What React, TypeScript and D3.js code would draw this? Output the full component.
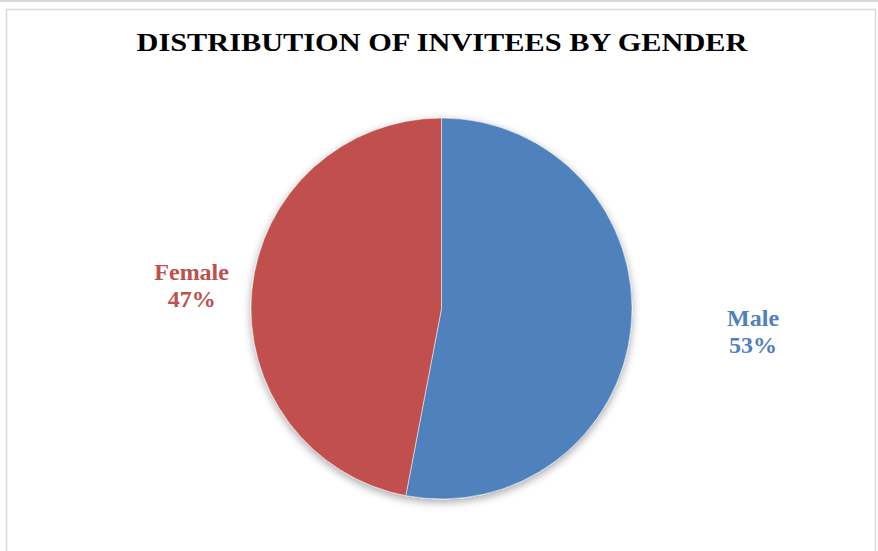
import React, { useRef, useEffect } from "react";
import * as d3 from "d3";

const labels = ["Male", "Female"];
const values = [53, 47];
const colors = ["#4F81BD", "#C0504D"];
// distancia de la etiqueta al centro y ajuste vertical por porción
const labelRadius = [313, 251];
const labelDy = [-7, 0];

const W = 878;
const H = 551;
const CX = 441.5;
const CY = 308.5;
const R = 190.5;
const FONT = "'Liberation Serif', 'Times New Roman', serif";

export default function App() {
  const svgRef = useRef<SVGSVGElement | null>(null);

  useEffect(() => {
    if (!svgRef.current) return;
    const svg = d3.select(svgRef.current);
    svg.selectAll("*").remove();

    // sombra suave debajo del pastel
    const defs = svg.append("defs");
    const f = defs
      .append("filter")
      .attr("id", "shadow")
      .attr("x", "-20%")
      .attr("y", "-20%")
      .attr("width", "140%")
      .attr("height", "140%");
    f.append("feGaussianBlur").attr("in", "SourceAlpha").attr("stdDeviation", 4);
    f.append("feOffset").attr("dx", 0).attr("dy", 3).attr("result", "b");
    f.append("feComponentTransfer")
      .append("feFuncA")
      .attr("type", "linear")
      .attr("slope", 0.35);
    const m = f.append("feMerge");
    m.append("feMergeNode");
    m.append("feMergeNode").attr("in", "SourceGraphic");

    svg.append("rect").attr("width", W).attr("height", H).attr("fill", "#fff");
    svg
      .append("rect")
      .attr("x", 0)
      .attr("y", 0)
      .attr("width", W)
      .attr("height", 2)
      .attr("fill", "#d9d9d9");
    svg
      .append("rect")
      .attr("x", 6.5)
      .attr("y", 9.5)
      .attr("width", 869)
      .attr("height", 560)
      .attr("fill", "#fff")
      .attr("stroke", "#d9d9d9")
      .attr("stroke-width", 1.5);

    svg
      .append("text")
      .attr("x", 442)
      .attr("y", 51)
      .attr("text-anchor", "middle")
      .attr("font-family", FONT)
      .attr("font-weight", "bold")
      .attr("font-size", 25.5)
      .attr("textLength", 611)
      .attr("lengthAdjust", "spacingAndGlyphs")
      .attr("fill", "#000")
      .text("DISTRIBUTION OF INVITEES BY GENDER");

    const pie = d3
      .pie<number>()
      .sort(null)
      .value((d) => d);
    const arcs = pie(values);
    const arc = d3.arc<d3.PieArcDatum<number>>().innerRadius(0).outerRadius(R);

    const g = svg.append("g").attr("transform", `translate(${CX},${CY})`);
    const pg = g.append("g").attr("filter", "url(#shadow)");
    pg.selectAll("path")
      .data(arcs)
      .join("path")
      .attr("d", arc)
      .attr("fill", (_, i) => colors[i])
      .attr("stroke", "#fff")
      .attr("stroke-width", 0.5);

    arcs.forEach((a, i) => {
      const mid = (a.startAngle + a.endAngle) / 2;
      const lx = labelRadius[i] * Math.sin(mid);
      const ly = -labelRadius[i] * Math.cos(mid) + labelDy[i];
      const t = g
        .append("text")
        .attr("text-anchor", "middle")
        .attr("font-family", FONT)
        .attr("font-weight", "bold")
        .attr("font-size", 24)
        .attr("fill", colors[i]);
      t.append("tspan").attr("x", lx).attr("y", ly - 5).text(labels[i]);
      t.append("tspan")
        .attr("x", lx)
        .attr("y", ly + 22)
        .text(`${values[i]}%`);
    });
  }, []);

  return (
    <svg
      ref={svgRef}
      width={W}
      height={H}
      style={{ position: "absolute", left: 0, top: 0, display: "block" }}
    />
  );
}
